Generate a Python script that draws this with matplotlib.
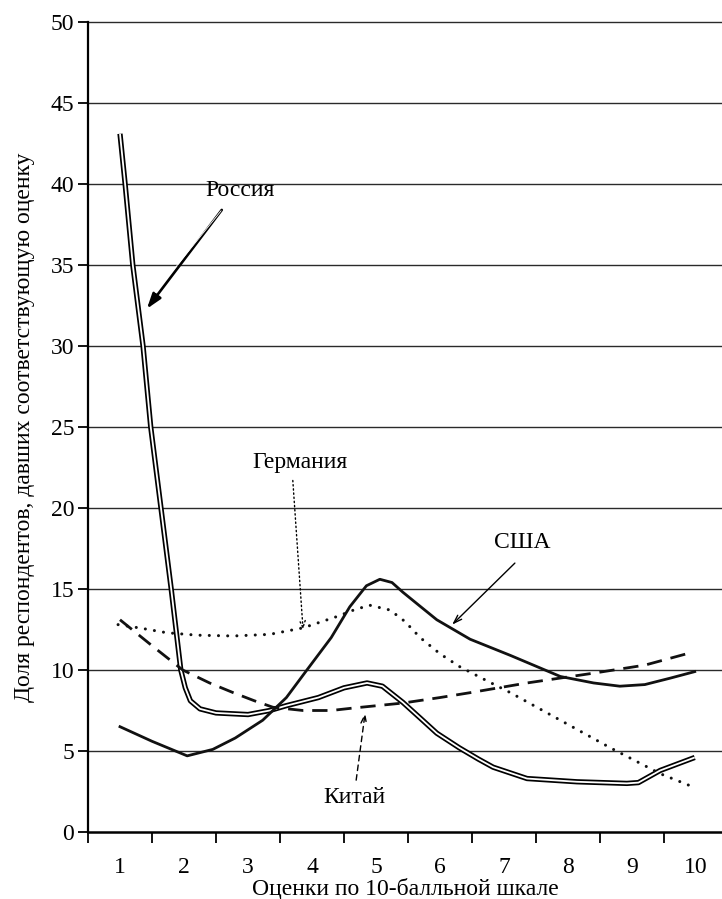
import matplotlib
matplotlib.use('Agg')
import matplotlib.pyplot as plt
from matplotlib.ticker import FixedLocator

plt.rcParams['font.family'] = ['Liberation Serif', 'DejaVu Serif']

# values (score, share of respondents, %)
russia_x = [1.0, 1.08, 1.2, 1.36, 1.48, 1.64, 1.8, 1.95, 2.02, 2.1, 2.25, 2.5, 3.0, 3.34, 3.6,
            4.1, 4.5, 4.86, 5.1, 5.42, 5.7, 5.95, 6.3, 6.6, 6.83, 7.36, 8.14, 8.92, 9.1, 9.44, 9.98]
russia_y = [43.1, 40, 35, 30, 25, 20, 15, 10, 8.9, 8.1, 7.6, 7.35, 7.25, 7.5, 7.8,
            8.3, 8.9, 9.2, 9.0, 8.0, 7.0, 6.1, 5.2, 4.5, 4.0, 3.3, 3.1, 3.0, 3.05, 3.8, 4.6]

usa_x = [1.0, 1.5, 2.05, 2.45, 2.8, 3.23, 3.6, 3.92, 4.3, 4.59, 4.85, 5.06, 5.25, 5.42,
         5.7, 5.95, 6.47, 7.1, 7.88, 8.4, 8.81, 9.2, 9.6, 9.98]
usa_y = [6.5, 5.6, 4.7, 5.1, 5.8, 6.9, 8.3, 10.0, 12.0, 13.9, 15.2, 15.6, 15.4, 14.8,
         13.9, 13.1, 11.9, 10.9, 9.6, 9.2, 9.0, 9.1, 9.5, 9.9]

germany_x = [0.97, 1.3, 1.73, 2.2, 2.77, 3.34, 3.86, 4.39, 4.65, 4.9, 5.22, 5.45, 5.69,
             6.0, 6.31, 6.7, 7.1, 7.88, 8.66, 9.44, 9.88]
germany_y = [12.8, 12.6, 12.3, 12.15, 12.1, 12.2, 12.6, 13.3, 13.7, 14.0, 13.7, 13.0, 12.0,
             11.0, 10.2, 9.4, 8.6, 6.9, 5.2, 3.6, 2.9]

china_x = [1.0, 1.5, 1.98, 2.4, 2.77, 3.1, 3.39, 3.86, 4.3, 4.64, 5.42, 6.0, 6.47, 7.36,
           8.39, 9.2, 9.9]
china_y = [13.1, 11.5, 10.0, 9.2, 8.6, 8.1, 7.7, 7.5, 7.5, 7.65, 7.96, 8.3, 8.6, 9.2,
           9.8, 10.3, 11.05]

scores = list(range(1, 11))
y_ticks = list(range(0, 55, 5))

fig = plt.figure(figsize=(7.22, 8.99), dpi=100)
ax = fig.add_axes([88/722, 67/899, 634/722, 810/899])
ax.set_xlim(0.5, 10.406)
ax.set_ylim(0, 50)

for v in y_ticks[1:]:
    ax.axhline(v, color='#2a2a2a', lw=1.0, zorder=1, clip_on=False)

# Russia: double line
ax.plot(russia_x, russia_y, color='black', lw=3.8, solid_capstyle='butt', zorder=3)
ax.plot(russia_x, russia_y, color='white', lw=1.3, solid_capstyle='butt', zorder=4)
ax.plot(usa_x, usa_y, color='#111111', lw=2.0, zorder=5)
ax.plot(germany_x, germany_y, color='#111111', lw=2.2, linestyle=(0, (0.01, 3.0)),
        dash_capstyle='round', zorder=5)
ax.plot(china_x, china_y, color='#111111', lw=2.0, linestyle=(0, (5.5, 3.2)), zorder=5)

fs = 17
ax.text(2.875, 39.6, 'Россия', fontsize=fs, ha='center', va='center')
ax.annotate('', xy=(1.42, 32.3), xytext=(2.59, 38.4),
            arrowprops=dict(arrowstyle='-|>,head_length=0.9,head_width=0.3', color='black',
                            lw=1.9, shrinkA=0, shrinkB=0))
ax.annotate('', xy=(1.55, 33.3), xytext=(2.58, 38.35),
            arrowprops=dict(arrowstyle='-', color='white', lw=0.6, shrinkA=0, shrinkB=0))

ax.text(3.81, 22.8, 'Германия', fontsize=fs, ha='center', va='center')
ax.annotate('', xy=(3.86, 12.5), xytext=(3.70, 21.7),
            arrowprops=dict(arrowstyle='->,head_length=0.5,head_width=0.2', color='black',
                            lw=1.0, linestyle=(0, (1, 2)), shrinkA=0, shrinkB=0))

ax.text(7.28, 17.9, 'США', fontsize=fs, ha='center', va='center')
ax.annotate('', xy=(6.19, 12.8), xytext=(7.17, 16.6),
            arrowprops=dict(arrowstyle='->,head_length=0.6,head_width=0.2', color='black',
                            lw=1.0, shrinkA=0, shrinkB=0))

ax.text(4.66, 2.16, 'Китай', fontsize=fs, ha='center', va='center')
ax.annotate('', xy=(4.83, 7.35), xytext=(4.69, 3.2),
            arrowprops=dict(arrowstyle='->,head_length=0.6,head_width=0.2', color='black',
                            lw=1.0, linestyle=(0, (4, 3)), shrinkA=0, shrinkB=0))

for side in ['top', 'right']:
    ax.spines[side].set_visible(False)
ax.spines['left'].set_linewidth(1.6)
ax.spines['bottom'].set_linewidth(1.8)

ax.set_yticks(y_ticks)
ax.tick_params(axis='y', direction='out', length=7, width=1.3, labelsize=fs, pad=3)
ax.xaxis.set_major_locator(FixedLocator(scores))
ax.set_xticklabels([str(s) for s in scores])
ax.xaxis.set_minor_locator(FixedLocator([s - 0.5 for s in scores]))
ax.tick_params(axis='x', which='major', length=0, labelsize=fs, pad=18)
ax.tick_params(axis='x', which='minor', direction='out', length=8, width=1.3)

ax.set_xlabel('Оценки по 10-балльной шкале', fontsize=fs, labelpad=0)
ax.set_ylabel('Доля респондентов, давших соответствующую оценку', fontsize=fs, labelpad=11)

fig.savefig('out.png', dpi=100)
